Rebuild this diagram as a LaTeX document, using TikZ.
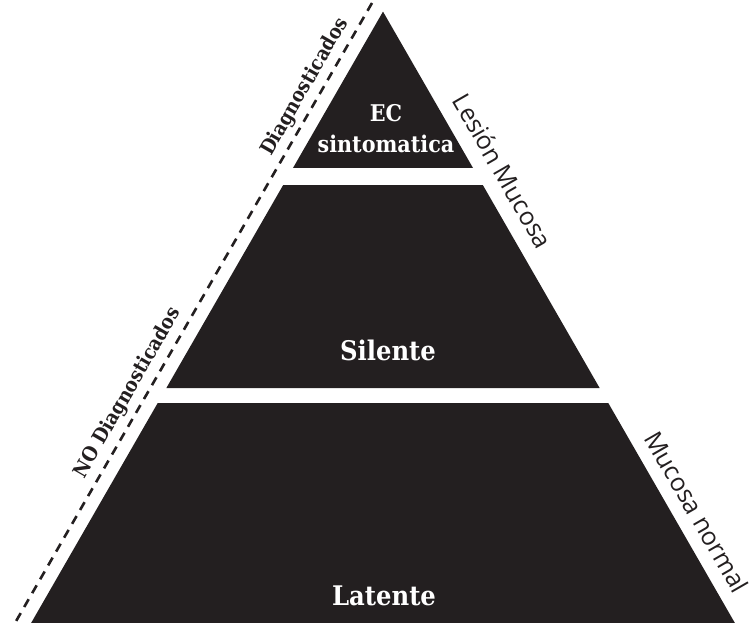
\documentclass[tikz,border=0pt]{standalone}
\usepackage{fontspec}
\usetikzlibrary{calc}
\newfontfamily\slabfont{DejaVu Serif Condensed}
\newfontfamily\labelfont{Open Sans}
\definecolor{pyramidFill}{RGB}{35,31,32}
\definecolor{labelGray}{RGB}{35,31,32}

\begin{document}
\begin{tikzpicture}[
  x=1pt, y=-1pt,
  tier/.style={fill=pyramidFill},
  tiertext/.style={font=\slabfont\bfseries\fontsize{27}{31}\selectfont, text=white, inner sep=0pt},
  sidelabel/.style={font=\slabfont\bfseries\fontsize{20}{24}\selectfont, text=labelGray, inner sep=0pt, rotate=60.08},
  edgelabel/.style={font=\labelfont\fontsize{25}{28}\selectfont, text=labelGray, inner sep=0pt, rotate=-60.08},
  border/.style={draw=labelGray, line width=2.6pt, dash pattern=on 9pt off 7pt}
]
\useasboundingbox (0,0) rectangle (752,623);

% Corners of the whole pyramid.
\coordinate (apex) at (383,11.6);
\coordinate (baseL) at (31.1,623);
\coordinate (baseR) at (734.9,623);

% The three tiers, cut from the same triangle.
\fill[tier] (apex) -- ($(apex)!0.2558!(baseR)$) -- ($(apex)!0.2558!(baseL)$) -- cycle;
\fill[tier] ($(apex)!0.2838!(baseL)$) -- ($(apex)!0.2838!(baseR)$)
  -- ($(apex)!0.6157!(baseR)$) -- ($(apex)!0.6157!(baseL)$) -- cycle;
\fill[tier] ($(apex)!0.6402!(baseL)$) -- ($(apex)!0.6402!(baseR)$)
  -- (baseR) -- (baseL) -- cycle;

% Tier names.
\node[tiertext, align=center, font=\slabfont\bfseries\fontsize{23}{31}\selectfont] (ecText) at (386,129) {EC\\sintomatica};
\node[tiertext, anchor=base] (silenteText) at (388,360) {Silente};
\node[tiertext, anchor=base] (latenteText) at (384,605) {Latente};

% Dashed border on the left side.
\coordinate (dashTop) at (372,3);
\coordinate (dashBot) at (15,623);
\draw[border] (dashTop) -- (dashBot);

\node[sidelabel] (diagText) at (305,87) {Diagnosticados};
\node[sidelabel] (noDiagText) at (128,393) {NO Diagnosticados};

% Labels along the right side.
\node[edgelabel] (lesionText) at (503,171) {Lesión Mucosa};
\node[edgelabel] (normalText) at (697,512) {Mucosa normal};

\end{tikzpicture}
\end{document}
